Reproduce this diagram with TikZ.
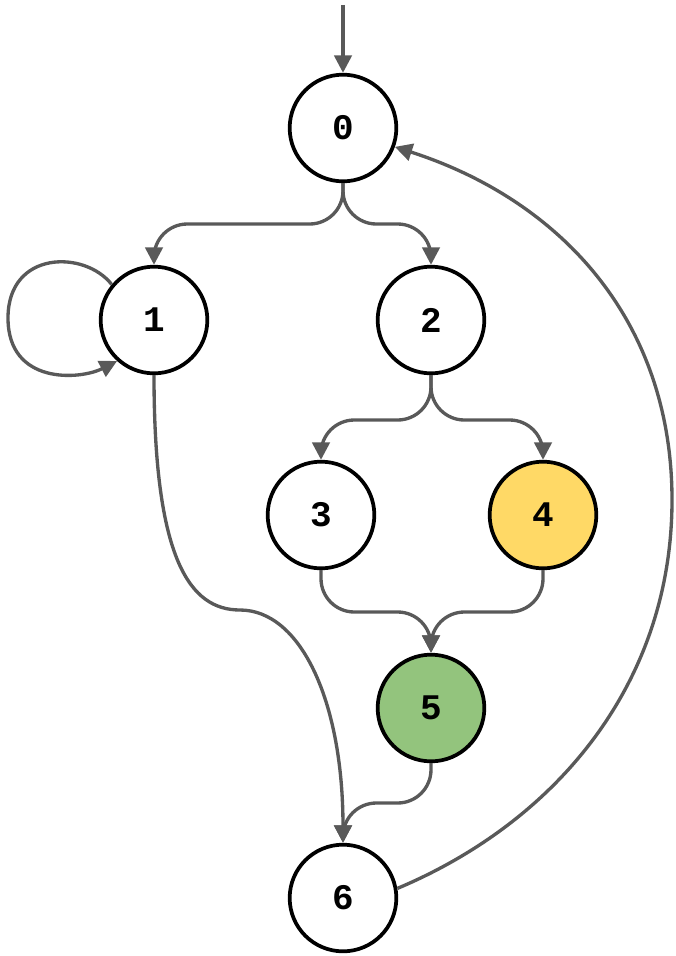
\documentclass[tikz,border=0pt]{standalone}
\usepackage{fontspec}
\setmonofont{Liberation Mono}
\usepackage{tikz}
\usetikzlibrary{arrows.meta}
\definecolor{edgegray}{HTML}{595959}
\definecolor{stateyellow}{HTML}{FFD966}
\definecolor{stategreen}{HTML}{93C47D}

\begin{document}
\begin{tikzpicture}[x=0.75pt, y=-0.75pt,
    state/.style={circle, draw=black, line width=2.8pt, fill=white,
        minimum size=80pt, inner sep=0pt,
        font=\fontsize{27}{27}\selectfont\ttfamily\bfseries},
    trans/.style={draw=edgegray, line width=2.5pt, rounded corners=25pt,
        -{Triangle[length=13pt,width=13pt]}}]
    \useasboundingbox (0,0) rectangle (675,956);

    % States
    \node[state] (s0) at (343,128) {0};
    \node[state] (s1) at (154,320) {1};
    \node[state] (s2) at (431,320) {2};
    \node[state] (s3) at (321,515) {3};
    \node[state, fill=stateyellow] (s4) at (543,515) {4};
    \node[state, fill=stategreen] (s5) at (431,708) {5};
    \node[state] (s6) at (343,898) {6};

    % Start arrow
    \coordinate (start) at (343,5);
    \draw[trans] (start) -- (s0);

    % Transitions
    \draw[trans] (s0.south) -- (343,224) -- (154,224) -- (s1.north);
    \draw[trans] (s0.south) -- (343,224) -- (431,224) -- (s2.north);
    \draw[trans, rounded corners=0pt] (s1.140) .. controls (85,250) and (8,250) .. (8,318)
        .. controls (8,385) and (80,380) .. (s1.228);
    \draw[trans, rounded corners=0pt] (s1.south) .. controls (154,560) and (190,610) .. (240,610)
        .. controls (300,610) and (343,700) .. (s6.north);
    \draw[trans] (s2.south) -- (431,420) -- (321,420) -- (s3.north);
    \draw[trans] (s2.south) -- (431,420) -- (543,420) -- (s4.north);
    \draw[trans] (s3.south) -- (321,612) -- (431,612) -- (s5.north);
    \draw[trans] (s4.south) -- (543,612) -- (431,612) -- (s5.north);
    \draw[trans] (s5.south) -- (431,803) -- (343,803) -- (s6.north);
    \draw[trans, rounded corners=0pt] (s6.10) .. controls (560,820) and (672,680) .. (672,500)
        .. controls (672,320) and (560,200) .. (s0.-20);
\end{tikzpicture}
\end{document}
